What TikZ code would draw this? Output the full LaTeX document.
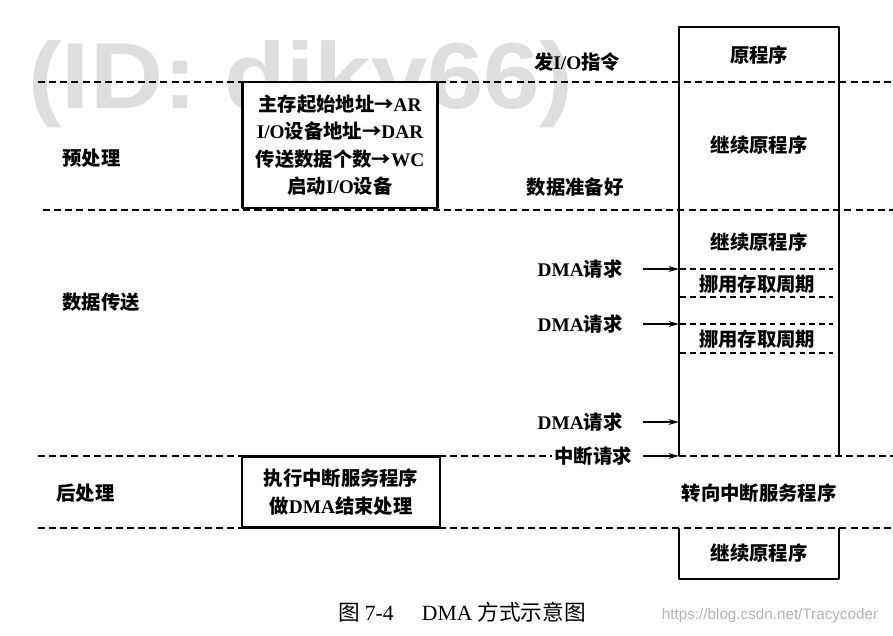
\documentclass[tikz,border=0pt]{standalone}
\usepackage{fontspec}
\setmainfont{Noto Sans CJK SC}
\newfontfamily\lat{Liberation Serif}
\newfontfamily\wmfont{Liberation Sans}
\usetikzlibrary{arrows.meta}
\tikzset{
	sep/.style={line width=1.1pt, dash pattern=on 6pt off 3.5pt},
	cut/.style={line width=1pt, dash pattern=on 5pt off 3.5pt},
	frame/.style={line width=1.8pt},
	lbl/.style={font=\bfseries\fontsize{16.5}{23.5}\selectfont, inner sep=2pt},
	req/.style={->, line width=1.2pt},
}
\begin{document}
\begin{tikzpicture}[x=0.03cm, y=-0.03cm, line join=round, >={Stealth[length=9pt, width=5pt]}]
	\useasboundingbox (0,0) rectangle (893,635);
	% watermark
	\node[text=black!13, font=\wmfont\bfseries\fontsize{80}{80}\selectfont, inner sep=0pt] (mark) at (301,84) {\scalebox{1.08}[1]{(ID: diky66)}};
	\path
	(679,27) coordinate (colTL)
	(839,27) coordinate (colTR)
	(679,456) coordinate (colBL)
	(839,456) coordinate (colBR)
	(643,0) coordinate (reqx)
		;
	% phase lines
	\draw[sep] (38,82)--(893,82);
	\draw[sep] (43,210)--(893,210);
	\draw[sep] (38,528)--(893,528);
	\draw[sep] (colBL)--(893,456);
	% stolen cycles
	\foreach \y in {269,297,324,353}
		\draw[cut] (680,\y)--(833,\y);
	\draw[frame] (colBL)--(colTL)--(colTR)--(colBR);
	\draw[frame] (679,528)--(679,579)--(839,579)--(839,528);
	% phases
	\node[lbl, anchor=west] (pre) at (60,158) {预处理};
	\node[lbl, anchor=west] (xfer) at (60,302) {数据传送};
	\node[lbl, anchor=west] (post) at (54,493) {后处理};
	\node[lbl, draw, frame, fill=white, align=center, minimum width=5.85cm, minimum height=3.78cm] (setup) at (340,145)
		{主存起始地址→{\lat AR}\\{\lat I/O}设备地址→{\lat DAR}\\传送数据个数→{\lat WC}\\启动{\lat I/O}设备};
	\node[lbl, draw, frame, fill=white, align=center, minimum width=5.94cm, minimum height=2.13cm] (finish) at (341,492)
		{执行中断服务程序\\做{\lat DMA}结束处理};
	% program column
	\node[lbl] (orig) at (759,55) {原程序};
	\node[lbl] (cont1) at (759,145) {继续原程序};
	\node[lbl] (cont2) at (759,242) {继续原程序};
	\node[lbl] (steal1) at (757,284) {挪用存取周期};
	\node[lbl] (steal2) at (757,339) {挪用存取周期};
	\node[lbl] (isr) at (759,493) {转向中断服务程序};
	\node[lbl] (cont3) at (759,553) {继续原程序};
	% events
	\node[lbl] (cmd) at (577,62) {发{\lat I/O}指令};
	\node[lbl] (ready) at (575,187) {数据准备好};
	\node[lbl] (dma1) at (580,269) {{\lat DMA}请求};
	\node[lbl] (dma2) at (580,324) {{\lat DMA}请求};
	\node[lbl] (dma3) at (580,422) {{\lat DMA}请求};
	\node[lbl] (irq) at (593,456) {中断请求};
	\draw[sep] (38,456)--(irq.west);
	\foreach \n in {dma1,dma2,dma3,irq}
		\draw[req] (\n.east-|reqx)--(\n.east-|colTL);
	% caption
	\node[font=\fontsize{18.5}{20}\selectfont] (cap) at (462,612) {图~{\lat 7-4}\hspace{1.3em}{\lat DMA} 方式示意图};
	\node[text=black!30, font=\wmfont\fontsize{13}{13}\selectfont] (url) at (770,616) {https://blog.csdn.net/Tracycoder};
\end{tikzpicture}
\end{document}
